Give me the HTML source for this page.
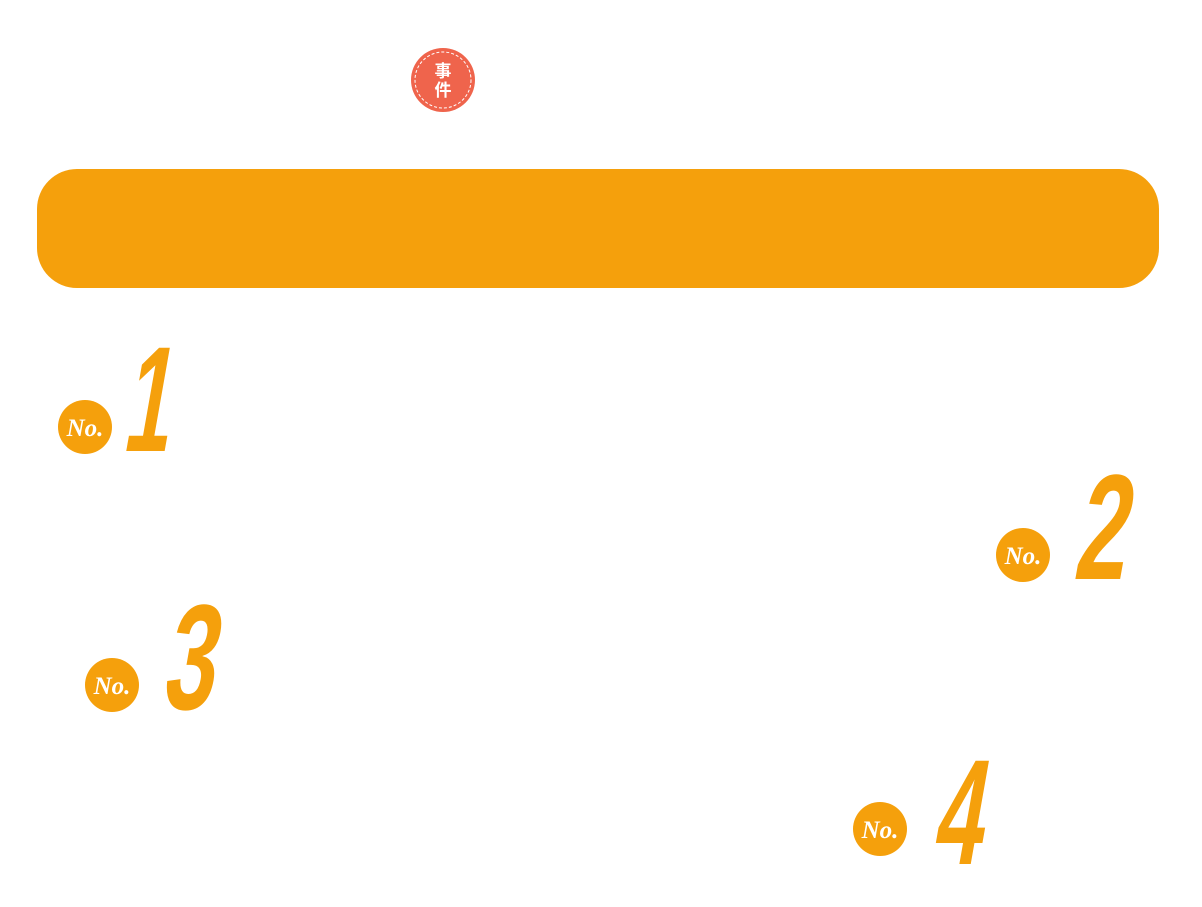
<!DOCTYPE html>
<html><head><meta charset="utf-8"><style>
html,body{margin:0;padding:0;background:#fff;width:1202px;height:907px;overflow:hidden}
svg{display:block}
</style></head><body>
<svg width="1202" height="907" viewBox="0 0 1202 907">
  <g>
    <circle cx="443" cy="80" r="32" fill="#ef644c"/>
    <circle cx="443" cy="80" r="28" fill="none" stroke="#fff" stroke-width="1" stroke-dasharray="3,2"/>
    <text x="443" y="77" text-anchor="middle" font-family="'Liberation Sans','Noto Sans CJK SC',sans-serif" font-weight="bold" font-size="17" fill="#fff">事</text>
    <text x="443" y="96" text-anchor="middle" font-family="'Liberation Sans','Noto Sans CJK SC',sans-serif" font-weight="bold" font-size="17" fill="#fff">件</text>
  </g>
  <rect x="37" y="169" width="1122" height="119" rx="40" fill="#f5a00c"/>

  <g>
    <circle cx="85" cy="427" r="27" fill="#f5a00c"/>
    <text x="85" y="436" text-anchor="middle" font-family="'Liberation Serif',serif" font-style="italic" font-weight="bold" font-size="25" fill="#fff">No.</text>
    <text transform="translate(144,451) skewX(-10) scale(0.55,1)" text-anchor="middle" font-family="'Liberation Sans',sans-serif" font-weight="bold" font-size="150" fill="#f5a00c">1</text>
  </g>
  <g>
    <circle cx="1023" cy="555" r="27" fill="#f5a00c"/>
    <text x="1023" y="564" text-anchor="middle" font-family="'Liberation Serif',serif" font-style="italic" font-weight="bold" font-size="25" fill="#fff">No.</text>
    <text transform="translate(1098,579) skewX(-10) scale(0.62,1)" text-anchor="middle" font-family="'Liberation Sans',sans-serif" font-weight="bold" font-size="150" fill="#f5a00c">2</text>
  </g>
  <g>
    <circle cx="112" cy="685" r="27" fill="#f5a00c"/>
    <text x="112" y="694" text-anchor="middle" font-family="'Liberation Serif',serif" font-style="italic" font-weight="bold" font-size="25" fill="#fff">No.</text>
    <text transform="translate(186,709) skewX(-10) scale(0.62,1)" text-anchor="middle" font-family="'Liberation Sans',sans-serif" font-weight="bold" font-size="150" fill="#f5a00c">3</text>
  </g>
  <g>
    <circle cx="880" cy="829" r="27" fill="#f5a00c"/>
    <text x="880" y="838" text-anchor="middle" font-family="'Liberation Serif',serif" font-style="italic" font-weight="bold" font-size="25" fill="#fff">No.</text>
    <text transform="translate(955,864) skewX(-10) scale(0.58,1)" text-anchor="middle" font-family="'Liberation Sans',sans-serif" font-weight="bold" font-size="150" fill="#f5a00c">4</text>
  </g>
</svg>
</body></html>
